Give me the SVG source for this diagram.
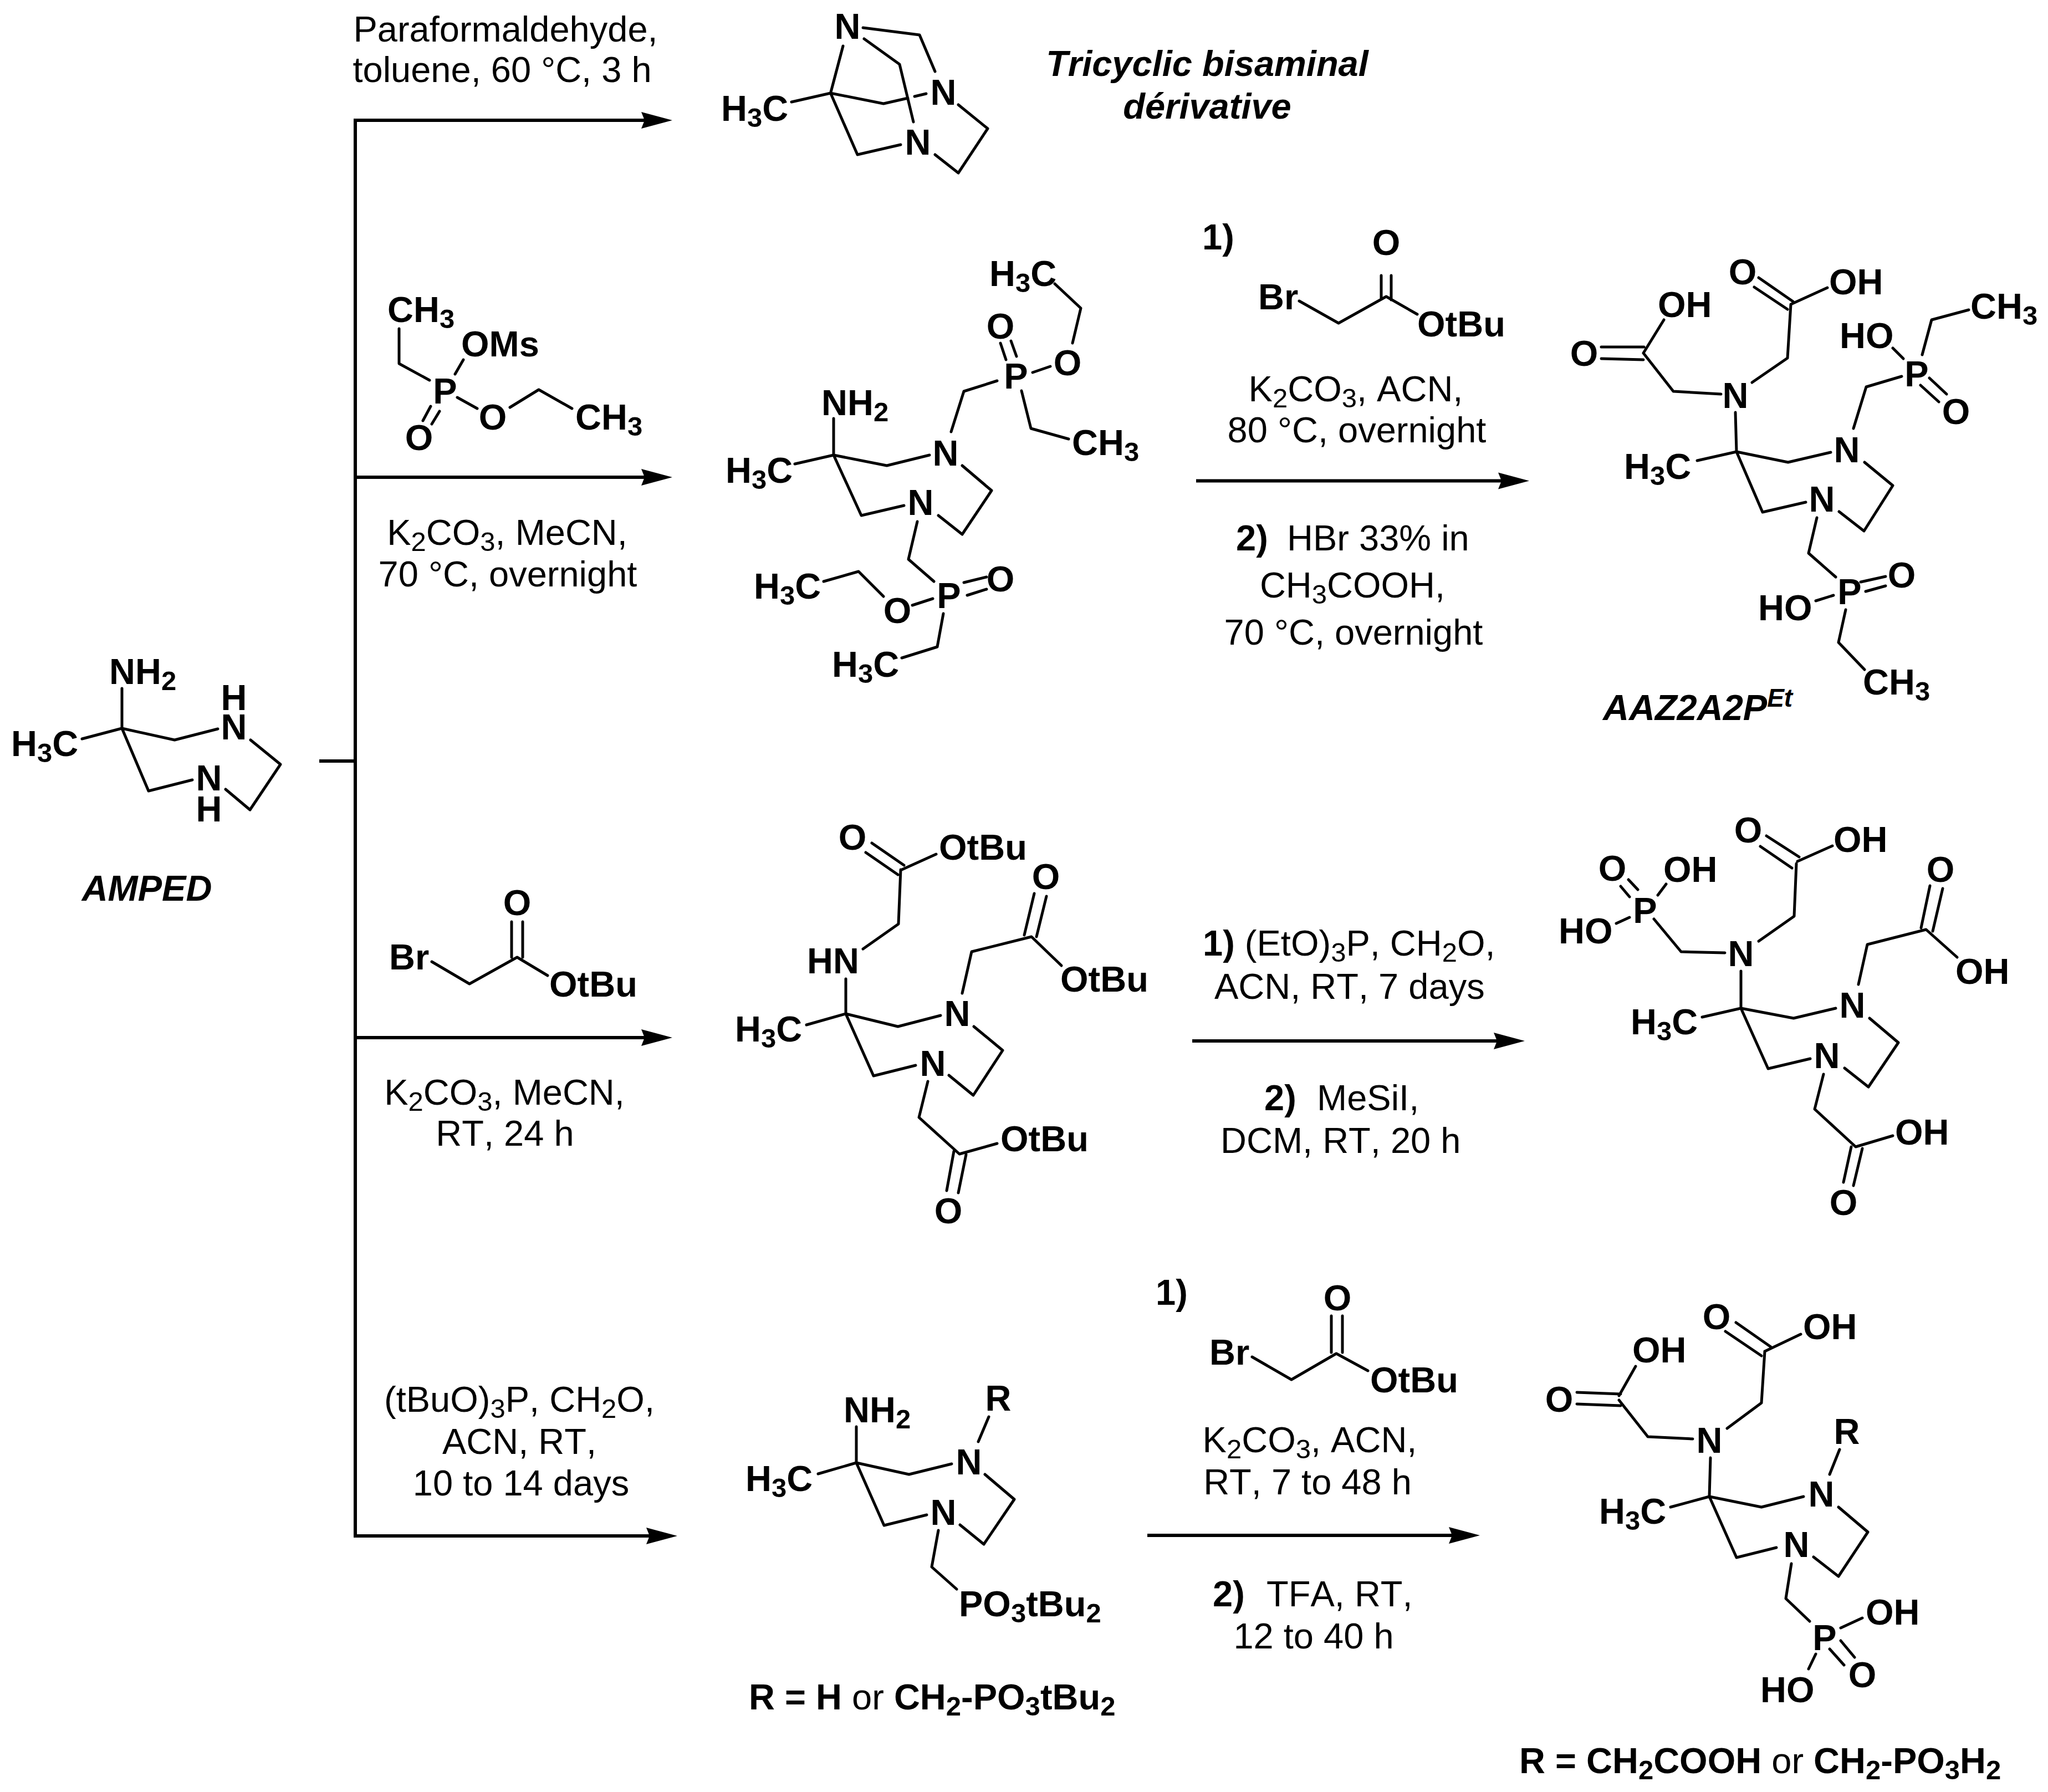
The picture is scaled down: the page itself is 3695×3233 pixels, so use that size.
<svg xmlns="http://www.w3.org/2000/svg" width="3695" height="3233" viewBox="0 0 3695 3233">
<style>
text{font-family:"Liberation Sans",Arial,sans-serif;font-size:65px;fill:#000;font-kerning:none}
.a{font-weight:700}
.m{text-anchor:middle}
.i{font-weight:700;font-style:italic}
.n{font-weight:400}
.s{font-size:49px}
.b{fill:none;stroke:#000;stroke-width:5;stroke-linecap:round;stroke-linejoin:round}
.c{fill:none;stroke:#000;stroke-width:6;stroke-linejoin:miter}
</style>
<defs>
<marker id="h" markerUnits="userSpaceOnUse" markerWidth="60" markerHeight="34" viewBox="0 -17 60 34" refX="6" refY="0" orient="auto"><path d="M0 -15L56 0L0 15L6 0Z" fill="#000"/></marker>
</defs>
<rect width="3695" height="3233" fill="#fff"/>
<g id="connectors">
<path class="c" d="M576 1373H641"/>
<path class="c" d="M641 214V2774"/>
<path class="c" marker-end="url(#h)" d="M641 217H1163"/>
<path class="c" marker-end="url(#h)" d="M641 861H1163"/>
<path class="c" marker-end="url(#h)" d="M641 1872H1163"/>
<path class="c" marker-end="url(#h)" d="M641 2771H1172"/>
<path class="c" marker-end="url(#h)" d="M2158 867.500H2709"/>
<path class="c" marker-end="url(#h)" d="M2151 1878H2701"/>
<path class="c" marker-end="url(#h)" d="M2070 2770H2620"/>
</g>
<g id="conditions-1">
<text class="m" x="912" y="75">Paraformaldehyde,</text>
<text class="m" x="906" y="148">toluene, 60 °C, 3 h</text>
</g>
<g id="tricyclic">
<path class="b" d="M1521 83L1498.500 168M1428 184L1498.500 168L1594 187L1638 177M1650 174L1671 169M1498.500 168L1547 279L1625 261M1557 50L1659 63L1687 129M1559 70L1623 116L1648 220M1729 189L1782 232L1729 312L1687 279"/>
<text class="a m" x="1529" y="70">N</text>
<text class="a m" x="1702" y="189">N</text>
<text class="a m" x="1656" y="279">N</text>
<text class="a" x="1301" y="218">H<tspan class="s" dy="11">3</tspan><tspan dy="-11">C</tspan></text>
<text class="i m" x="2178" y="137">Tricyclic bisaminal</text>
<text class="i m" x="2178" y="214">dérivative</text>
</g>
<g id="reagent-phosphinate">
<path class="b" d="M720 593V656L775 686M836 649L821 675M825 717L861 737M920 735L972 703L1032 737M777 733L763 759M793 742L779 765"/>
<text class="a" x="699" y="581">CH<tspan class="s" dy="11">3</tspan></text>
<text class="a" x="832" y="643">OMs</text>
<text class="a m" x="803" y="728">P</text>
<text class="a m" x="889" y="775">O</text>
<text class="a" x="1038" y="775">CH<tspan class="s" dy="11">3</tspan></text>
<text class="a m" x="756" y="812">O</text>
<text class="m" x="915" y="983">K<tspan class="s" dy="11">2</tspan><tspan dy="-11">CO</tspan><tspan class="s" dy="11">3</tspan><tspan dy="-11">, MeCN,</tspan></text>
<text class="m" x="916" y="1058">70 °C, overnight</text>
</g>
<g id="intermediate-phosphinate">
<path class="b" d="M1903 512L1950 556L1935 619M1863 672L1895 661M1805 619L1815 649M1824 615L1834 643M1799 687L1739 706L1716 779M1843 705L1860 773L1928 792M1504 755V821M1434 837L1504 821L1600 840L1677 821M1504 821L1554 930L1631 912M1736 840L1789 885L1736 964L1693 930M1655 941L1639 1009L1685 1049M1739 1051L1780 1041M1745 1074L1780 1063M1683 1080L1646 1092M1594 1076L1549 1031L1486 1049M1702 1107L1691 1167L1627 1187"/>
<text class="a" x="1785" y="516">H<tspan class="s" dy="11">3</tspan><tspan dy="-11">C</tspan></text>
<text class="a m" x="1805" y="611">O</text>
<text class="a m" x="1926" y="677">O</text>
<text class="a m" x="1833" y="701">P</text>
<text class="a" x="1482" y="749">NH<tspan class="s" dy="11">2</tspan></text>
<text class="a" x="1309" y="871">H<tspan class="s" dy="11">3</tspan><tspan dy="-11">C</tspan></text>
<text class="a" x="1934" y="821">CH<tspan class="s" dy="11">3</tspan></text>
<text class="a m" x="1706" y="840">N</text>
<text class="a m" x="1661" y="929">N</text>
<text class="a m" x="1805" y="1067">O</text>
<text class="a m" x="1712" y="1097">P</text>
<text class="a m" x="1619" y="1124">O</text>
<text class="a" x="1360" y="1080">H<tspan class="s" dy="11">3</tspan><tspan dy="-11">C</tspan></text>
<text class="a" x="1501" y="1221">H<tspan class="s" dy="11">3</tspan><tspan dy="-11">C</tspan></text>
</g>
<g id="conditions-2">
<path class="b" d="M2344 543L2415 583L2501 535L2557 567M2492 497V539M2510 497V541"/>
<text class="a" x="2169" y="450">1)</text>
<text class="a" x="2270" y="558">Br</text>
<text class="a m" x="2501" y="460">O</text>
<text class="a" x="2557" y="607">OtBu</text>
<text class="m" x="2446" y="724">K<tspan class="s" dy="11">2</tspan><tspan dy="-11">CO</tspan><tspan class="s" dy="11">3</tspan><tspan dy="-11">, ACN,</tspan></text>
<text class="m" x="2448" y="798">80 °C, overnight</text>
<text class="a" x="2230" y="993">2)</text>
<text x="2322" y="993">HBr 33% in</text>
<text class="m" x="2440" y="1078">CH<tspan class="s" dy="11">3</tspan><tspan dy="-11">COOH,</tspan></text>
<text class="m" x="2442" y="1163">70 °C, overnight</text>
</g>
<g id="AAZ2A2PEt">
<path class="b" d="M2889 626H2966M2889 647L2965 649M2965 637L3002 577M2965 637L3019 706L3105 711M3161 690L3225 646L3231 549L3297 519M3173 501L3235 544M3165 518L3225 558M3131 744L3133 815M3062 831L3133 815L3226 834L3303 816M3133 815L3180 924L3258 906M3364 834L3415 876L3363 958L3318 923M3344 773L3367 698L3431 679M3415 628L3434 647M3468 640L3485 577L3552 559M3481 682L3512 711M3465 695L3498 725M3278 934L3263 998L3312 1041M3357 1050L3402 1040M3366 1067L3402 1057M3276 1084L3308 1074M3330 1100L3317 1159L3364 1208"/>
<text class="a m" x="2858" y="660">O</text>
<text class="a" x="2991" y="572">OH</text>
<text class="a m" x="3144" y="513">O</text>
<text class="a" x="3300" y="531">OH</text>
<text class="a m" x="3131" y="736">N</text>
<text class="a" x="3319" y="628">HO</text>
<text class="a m" x="3458" y="697">P</text>
<text class="a" x="3555" y="575">CH<tspan class="s" dy="11">3</tspan></text>
<text class="a m" x="3529" y="765">O</text>
<text class="a m" x="3332" y="834">N</text>
<text class="a" x="2930" y="864">H<tspan class="s" dy="11">3</tspan><tspan dy="-11">C</tspan></text>
<text class="a m" x="3287" y="923">N</text>
<text class="a m" x="3337" y="1090">P</text>
<text class="a m" x="3431" y="1060">O</text>
<text class="a" x="3172" y="1119">HO</text>
<text class="a" x="3361" y="1253">CH<tspan class="s" dy="11">3</tspan></text>
<text class="i" x="2892" y="1299">AAZ2A2P<tspan style="font-size:46px" dy="-24">Et</tspan></text>
</g>
<g id="AMPED">
<path class="b" d="M220 1242V1314M148 1333L220 1314L315 1335L393 1315M220 1314L268 1427L347 1407M452 1335L506 1379L451 1461L407 1424"/>
<text class="a" x="197" y="1234">NH<tspan class="s" dy="11">2</tspan></text>
<text class="a m"><tspan x="422" y="1281">H</tspan><tspan x="422" y="1334">N</tspan></text>
<text class="a m"><tspan x="377" y="1426">N</tspan><tspan x="377" y="1482">H</tspan></text>
<text class="a" x="20" y="1364">H<tspan class="s" dy="11">3</tspan><tspan dy="-11">C</tspan></text>
<text class="i m" x="265" y="1625">AMPED</text>
</g>
<g id="reagent-bromoacetate-1">
<path class="b" d="M923 1663V1727M943 1663V1727M779 1735L847 1775L933 1727L988 1760"/>
<text class="a" x="702" y="1749">Br</text>
<text class="a m" x="933" y="1651">O</text>
<text class="a" x="991" y="1798">OtBu</text>
<text class="m" x="910" y="1993">K<tspan class="s" dy="11">2</tspan><tspan dy="-11">CO</tspan><tspan class="s" dy="11">3</tspan><tspan dy="-11">, MeCN,</tspan></text>
<text class="m" x="911" y="2067">RT, 24 h</text>
</g>
<g id="intermediate-ester">
<path class="b" d="M1573 1521L1631 1561M1562 1538L1620 1578M1627 1569L1689 1541M1625 1569L1621 1667L1557 1712M1526 1766V1829M1455 1849L1526 1829L1620 1852L1697 1832M1526 1829L1576 1941L1652 1922M1757 1852L1809 1895L1756 1976L1712 1940M1736 1792L1753 1717L1861 1690L1915 1742M1848 1687L1866 1612M1870 1690L1888 1617M1674 1951L1658 2016L1731 2082L1799 2063M1721 2077L1708 2148M1743 2083L1729 2152"/>
<text class="a m" x="1538" y="1533">O</text>
<text class="a" x="1694" y="1551">OtBu</text>
<text class="a m" x="1887" y="1604">O</text>
<text class="a" x="1456" y="1756">HN</text>
<text class="a" x="1913" y="1789">OtBu</text>
<text class="a m" x="1727" y="1851">N</text>
<text class="a" x="1326" y="1879">H<tspan class="s" dy="11">3</tspan><tspan dy="-11">C</tspan></text>
<text class="a m" x="1683" y="1941">N</text>
<text class="a" x="1805" y="2077">OtBu</text>
<text class="a m" x="1711" y="2207">O</text>
</g>
<g id="conditions-3">
<text x="2170" y="1724"><tspan class="a">1)</tspan> (EtO)<tspan class="s" dy="11">3</tspan><tspan dy="-11">P, CH</tspan><tspan class="s" dy="11">2</tspan><tspan dy="-11">O,</tspan></text>
<text x="2191" y="1802">ACN, RT, 7 days</text>
<text class="a" x="2281" y="2003">2)</text>
<text x="2376" y="2003">MeSiI,</text>
<text x="2202" y="2080">DCM, RT, 20 h</text>
</g>
<g id="product-phosphonate">
<path class="b" d="M3187 1508L3246 1546M3176 1527L3233 1566M3243 1554L3306 1526M3241 1558L3237 1653L3173 1698M2938 1587L2955 1605M2924 1599L2940 1618M2991 1615L3006 1595M2916 1666L2940 1655M2984 1658L3033 1717L3112 1719M3141 1752V1819M3071 1835L3141 1819L3236 1837L3312 1819M3141 1819L3190 1928L3266 1910M3373 1837L3425 1881L3371 1961L3328 1927M3353 1776L3369 1704L3475 1677L3531 1727M3466 1674L3482 1598M3487 1680L3505 1603M3290 1938L3274 2001L3348 2069L3415 2049M3340 2069L3326 2133M3360 2072L3344 2139"/>
<text class="a m" x="3154" y="1520">O</text>
<text class="a" x="3308" y="1537">OH</text>
<text class="a m" x="2909" y="1589">O</text>
<text class="a" x="3001" y="1591">OH</text>
<text class="a m" x="2968" y="1665">P</text>
<text class="a" x="2812" y="1702">HO</text>
<text class="a m" x="3141" y="1743">N</text>
<text class="a m" x="3501" y="1591">O</text>
<text class="a" x="3528" y="1775">OH</text>
<text class="a m" x="3342" y="1836">N</text>
<text class="a" x="2942" y="1866">H<tspan class="s" dy="11">3</tspan><tspan dy="-11">C</tspan></text>
<text class="a m" x="3296" y="1927">N</text>
<text class="a" x="3419" y="2065">OH</text>
<text class="a m" x="3326" y="2192">O</text>
</g>
<g id="conditions-4">
<text class="m" x="937" y="2547">(tBuO)<tspan class="s" dy="11">3</tspan><tspan dy="-11">P, CH</tspan><tspan class="s" dy="11">2</tspan><tspan dy="-11">O,</tspan></text>
<text class="m" x="937" y="2623">ACN, RT,</text>
<text class="m" x="940" y="2698">10 to 14 days</text>
</g>
<g id="intermediate-tbu">
<path class="b" d="M1545 2574V2639M1476 2659L1545 2639L1640 2660L1717 2641M1545 2639L1595 2752L1672 2733M1784 2556L1765 2601M1777 2660L1830 2705L1775 2786L1732 2751M1693 2761L1681 2827L1726 2867"/>
<text class="a" x="1522" y="2566">NH<tspan class="s" dy="11">2</tspan></text>
<text class="a m" x="1801" y="2545">R</text>
<text class="a m" x="1748" y="2660">N</text>
<text class="a" x="1345" y="2690">H<tspan class="s" dy="11">3</tspan><tspan dy="-11">C</tspan></text>
<text class="a m" x="1702" y="2751">N</text>
<text class="a" x="1730" y="2916">PO<tspan class="s" dy="11">3</tspan><tspan dy="-11">tBu</tspan><tspan class="s" dy="11">2</tspan></text>
<text class="a" x="1351" y="3084">R = H <tspan class="n">or</tspan> CH<tspan class="s" dy="11">2</tspan><tspan dy="-11">-PO</tspan><tspan class="s" dy="11">3</tspan><tspan dy="-11">tBu</tspan><tspan class="s" dy="11">2</tspan></text>
</g>
<g id="conditions-5">
<path class="b" d="M2402 2374V2440M2422 2374V2440M2259 2448L2330 2489L2411 2442L2468 2473"/>
<text class="a" x="2085" y="2354">1)</text>
<text class="a" x="2182" y="2462">Br</text>
<text class="a m" x="2413" y="2364">O</text>
<text class="a" x="2472" y="2512">OtBu</text>
<text class="m" x="2363" y="2620">K<tspan class="s" dy="11">2</tspan><tspan dy="-11">CO</tspan><tspan class="s" dy="11">3</tspan><tspan dy="-11">, ACN,</tspan></text>
<text class="m" x="2359" y="2696">RT, 7 to 48 h</text>
<text class="a" x="2188" y="2898">2)</text>
<text x="2285" y="2898">TFA, RT,</text>
<text class="m" x="2370" y="2974">12 to 40 h</text>
</g>
<g id="product-tbu">
<path class="b" d="M3132 2386L3195 2430M3113 2402L3178 2446M3184 2438L3249 2407M3184 2438L3178 2531L3116 2577M2951 2465L2921 2518M2845 2512L2924 2515M2845 2533L2924 2536M2921 2526L2973 2592L3054 2596M3086 2630L3084 2700M3014 2719L3084 2700L3178 2719L3254 2700M3084 2700L3133 2810L3205 2792M3319 2615L3301 2660M3317 2719L3370 2764L3317 2844L3272 2809M3232 2821L3222 2884L3265 2925M3321 2937L3360 2919M3321 2960L3346 2990M3301 2975L3327 3004M3276 2984L3263 3011"/>
<text class="a m" x="3097" y="2398">O</text>
<text class="a" x="3253" y="2416">OH</text>
<text class="a" x="2945" y="2458">OH</text>
<text class="a m" x="2813" y="2547">O</text>
<text class="a m" x="3084" y="2621">N</text>
<text class="a m" x="3332" y="2605">R</text>
<text class="a m" x="3286" y="2718">N</text>
<text class="a" x="2885" y="2749">H<tspan class="s" dy="11">3</tspan><tspan dy="-11">C</tspan></text>
<text class="a m" x="3241" y="2809">N</text>
<text class="a" x="3366" y="2931">OH</text>
<text class="a m" x="3292" y="2977">P</text>
<text class="a m" x="3360" y="3044">O</text>
<text class="a" x="3176" y="3071">HO</text>
<text class="a" x="2741" y="3199">R = CH<tspan class="s" dy="11">2</tspan><tspan dy="-11">COOH </tspan><tspan class="n">or</tspan> CH<tspan class="s" dy="11">2</tspan><tspan dy="-11">-PO</tspan><tspan class="s" dy="11">3</tspan><tspan dy="-11">H</tspan><tspan class="s" dy="11">2</tspan></text>
</g>
</svg>
